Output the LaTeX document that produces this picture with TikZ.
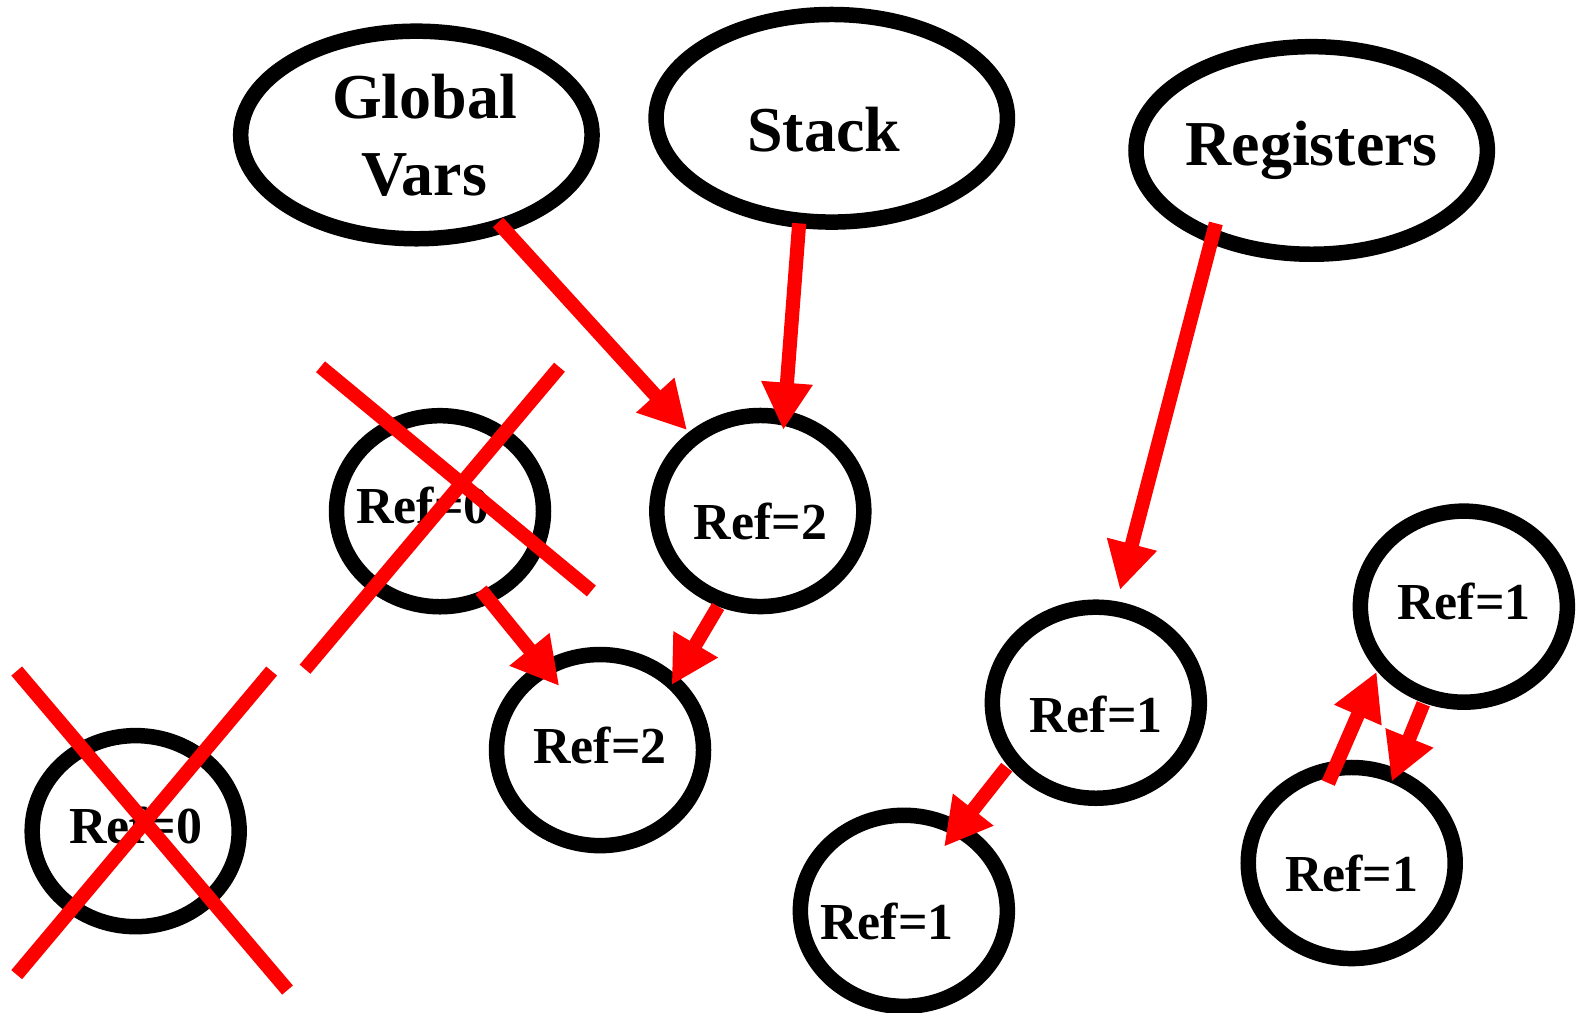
\documentclass[tikz,border=0pt]{standalone}
\usepackage{fontspec}
\setmainfont{Liberation Serif}
\usetikzlibrary{shapes.geometric,arrows.meta,calc}
% a label that does not widen its ellipse
\newcommand\midbox[1]{\hbox to 0pt{\hss#1\hss}}
\begin{document}
\begin{tikzpicture}[x=0.5pt,y=-0.5pt,
  ring/.style={ellipse,draw=black,line width=7.7pt,inner sep=0pt,outer sep=0pt,
    minimum width=102.9pt,minimum height=95pt,
    font=\bfseries\fontsize{25.8}{31}\selectfont},
  bigring/.style={ring,minimum width=174.7pt,minimum height=103.2pt,
    font=\bfseries\fontsize{31.8}{38.1}\selectfont},
  basedrop/.style={text height=#1,text depth=0pt},
  ptr/.style={draw=red,line width=7pt,-{Triangle[length=23.5pt,width=24pt]}},
  strike/.style={draw=red,line width=7pt}]
\useasboundingbox (0,0) rectangle (1568,1007);

% roots
\node[bigring,align=center] (G) at (414,134.2) {\kern8pt Global\\\kern8pt Vars};
\node[bigring,basedrop=33.1pt] (S) at (827,117.6) {\midbox{Stack\kern7.9pt}};
\node[bigring,basedrop=15.4pt] (R) at (1304.2,149.6) {\midbox{Registers}};

% heap objects
\node[ring,basedrop=12pt]   (A) at (437.5,508.3)  {\midbox{Ref=0\kern16.9pt}};
\node[ring,basedrop=28.8pt] (B) at (756,508.1)    {\midbox{Ref=2}};
\node[ring,basedrop=13.2pt] (C) at (596.6,745.8)  {\midbox{Ref=2}};
\node[ring,basedrop=12pt]   (D) at (134.9,826.4)  {\midbox{Ref=0}};
\node[ring,basedrop=29.8pt] (E) at (1089.6,698.7) {\midbox{Ref=1}};
\node[ring,basedrop=29pt]   (F) at (898.7,905.6)  {\midbox{Ref=1\kern16.7pt}};
\node[ring,basedrop=13.2pt] (H) at (1455.5,603.2) {\midbox{Ref=1}};
\node[ring,basedrop=28.5pt] (K) at (1344,858.1)   {\midbox{Ref=1}};

% references
\draw[ptr] ($(G)+(81.2,87)$)    -- ($(B)+(-72.9,-80.5)$);
\draw[ptr] ($(S)+(-32.4,104.5)$) -- ($(B)+(22.9,-80.6)$);
\draw[ptr] ($(R)+(-95.3,72.5)$) -- ($(E)+(24,-112.1)$);
\draw[ptr] ($(A)+(40.8,78.3)$)  -- ($(C)+(-40.5,-63.7)$);
\draw[ptr] ($(B)+(-42,94.9)$)   -- ($(C)+(71.2,-64.7)$);
\draw[ptr] ($(E)+(-88.6,64.1)$) -- ($(F)+(39.9,-63.7)$);
\draw[ptr] ($(K)+(-23.3,-79.6)$) -- ($(H)+(-86.7,64.7)$);
\draw[ptr] ($(H)+(-40.3,96.6)$) -- ($(K)+(39.7,-80.9)$);

% collected objects crossed out
\draw[strike] (318.7,364.7) -- (588,587.6);
\draw[strike] (556.3,365.1) -- (303.3,665.4);
\draw[strike] (16.6,667.2) -- (285.9,984.4);
\draw[strike] (270.1,667.2) -- (16.6,969.1);
\end{tikzpicture}
\end{document}
